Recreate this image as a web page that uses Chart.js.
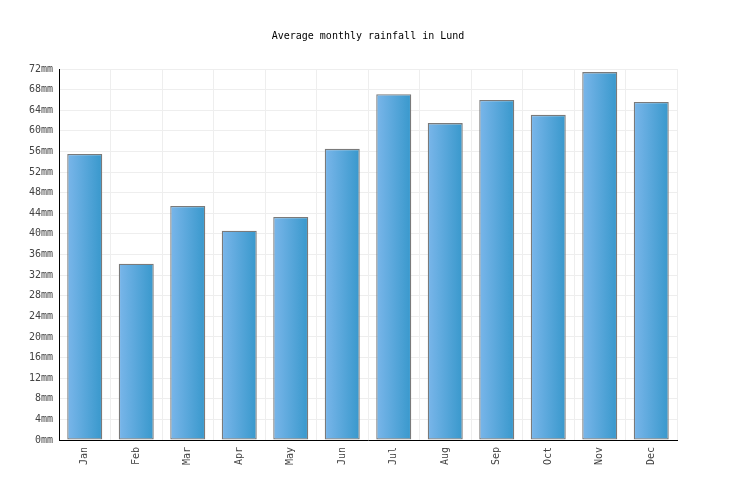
<!DOCTYPE html>
<html>
<head>
<meta charset="utf-8">
<script src="https://cdn.jsdelivr.net/npm/chart.js@4/dist/chart.umd.min.js"></script>
<style>
  html, body { margin: 0; padding: 0; background: #fff; }
  #wrap { width: 736px; height: 500px; }
</style>
</head>
<body>
<div id="wrap"><canvas id="rainChart" width="736" height="500"></canvas></div>
<script>
const months = ["Jan", "Feb", "Mar", "Apr", "May", "Jun", "Jul", "Aug", "Sep", "Oct", "Nov", "Dec"];
const rainfall = [55.5, 34.2, 45.4, 40.6, 43.3, 56.5, 67.1, 61.5, 66.0, 63.1, 71.4, 65.6];
const titleText = "Average monthly rainfall in Lund";
const yMax = 72;
const yStep = 4;
const unit = "mm";

const barPct = 0.68;
const monoFont = "'DejaVu Sans Mono', 'Liberation Mono', monospace";

function barGradient(ctx) {
    const chart = ctx.chart;
    const xScale = chart.scales && chart.scales.x;
    if (!xScale || !chart.chartArea || ctx.dataIndex === undefined) return "#5aa6dc";
    const cx = xScale.getPixelForValue(ctx.dataIndex);
    const w = xScale.width / months.length * barPct;
    const g = chart.ctx.createLinearGradient(cx - w / 2, 0, cx + w / 2, 0);
    g.addColorStop(0, "#7ab6ea");
    g.addColorStop(1, "#3898cc");
    return g;
}

new Chart(document.getElementById("rainChart"), {
    type: "bar",
    data: {
        labels: months,
        datasets: [{
            label: "Rainfall",
            data: rainfall,
            backgroundColor: barGradient,
            borderColor: "#7a7a7a",
            borderWidth: 1.3,
            borderSkipped: false,
            barPercentage: barPct,
            categoryPercentage: 1
        }]
    },
    options: {
        responsive: false,
        animation: false,
        layout: { padding: 0 },
        plugins: {
            legend: { display: false },
            tooltip: { enabled: false },
            title: {
                display: true,
                text: titleText,
                color: "#000",
                font: { family: monoFont, size: 10, weight: "normal" },
                padding: { top: 30, bottom: 27 }
            }
        },
        scales: {
            x: {
                grid: { color: "#eeeeee", drawTicks: false, offset: true },
                border: { color: "#000", width: 1 },
                ticks: {
                    color: "#444",
                    font: { family: monoFont, size: 10 },
                    minRotation: 90,
                    maxRotation: 90,
                    padding: 7
                },
                afterFit: scale => { scale.height = 60; }
            },
            y: {
                min: 0,
                max: yMax,
                grid: { color: "#eeeeee", drawTicks: false },
                border: { color: "#000", width: 1 },
                ticks: {
                    stepSize: yStep,
                    color: "#444",
                    font: { family: monoFont, size: 10 },
                    padding: 6,
                    callback: v => v + unit
                },
                afterFit: scale => { scale.width = 59; }
            },
            yRight: {
                position: "right",
                min: 0,
                max: yMax,
                grid: { display: false, drawTicks: false },
                border: { display: false },
                ticks: { display: false },
                afterFit: scale => { scale.width = 59; }
            }
        }
    }
});
</script>
</body>
</html>
